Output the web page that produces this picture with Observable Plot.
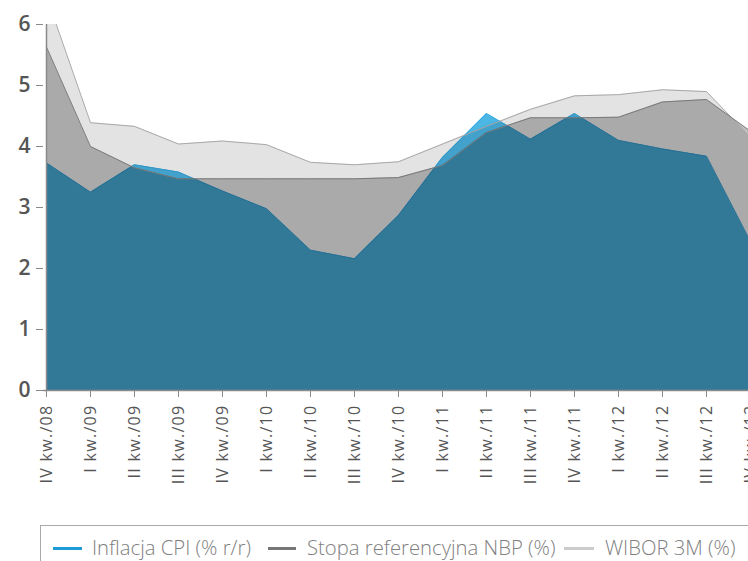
<!DOCTYPE html>
<html>
<head>
<meta charset="utf-8">
<script src="https://cdn.jsdelivr.net/npm/d3@7"></script>
<script src="https://cdn.jsdelivr.net/npm/@observablehq/plot@0.6"></script>
<style>
  html, body { margin: 0; padding: 0; background: #fff; overflow: hidden; }
  body { width: 748px; height: 561px; position: relative; font-family: "Open Sans", "Noto Sans", sans-serif; }
  #chart { position: absolute; left: 0; top: 0; }
  g[aria-label="y-axis tick label"] { fill: #555; font-weight: 600; }
  g[aria-label="x-axis tick label"] { fill: #555; letter-spacing: 1.3px; }
  g[aria-label="y-axis tick"], g[aria-label="x-axis tick"] { stroke: #8a8a8a; }
  #legend { position: absolute; left: 40px; top: 525px; width: 760px; height: 60px; border: 1px solid #aaa; box-sizing: border-box; }
  .sw { position: absolute; height: 3px; top: 21px; }
  .lt { position: absolute; top: 7px; font-size: 20.3px; line-height: 28px; color: #808080; font-weight: 300; white-space: nowrap; }
</style>
</head>
<body>
<div id="chart"></div>
<div id="legend"></div>
<script>
const categories = ["IV kw./08","I kw./09","II kw./09","III kw./09","IV kw./09","I kw./10","II kw./10","III kw./10","IV kw./10","I kw./11","II kw./11","III kw./11","IV kw./11","I kw./12","II kw./12","III kw./12","IV kw./12"];
const cpi   = [3.73, 3.25, 3.70, 3.58, 3.27, 2.98, 2.30, 2.16, 2.87, 3.82, 4.54, 4.12, 4.54, 4.10, 3.96, 3.84, 2.44];
const nbp   = [5.63, 4.00, 3.65, 3.47, 3.47, 3.47, 3.47, 3.47, 3.49, 3.69, 4.23, 4.47, 4.47, 4.48, 4.73, 4.77, 4.25];
const wibor = [6.46, 4.39, 4.33, 4.04, 4.09, 4.03, 3.74, 3.70, 3.75, 4.04, 4.33, 4.61, 4.83, 4.85, 4.93, 4.90, 4.15];
const yTicks = [0, 1, 2, 3, 4, 5, 6];
const seriesNames = ["Inflacja CPI (% r/r)", "Stopa referencyjna NBP (%)", "WIBOR 3M (%)"];
const seriesColors = ["#1e9ad8", "#777777", "#cccccc"];

const data = categories.map((c, i) => ({cat: c, cpi: cpi[i], nbp: nbp[i], wibor: wibor[i]}));

const plot = Plot.plot({
  width: 748,
  height: 520,
  marginTop: 24,
  marginBottom: 130,
  marginLeft: 43,
  marginRight: 0,
  style: {fontFamily: "'Open Sans', 'Noto Sans', sans-serif", background: "#fff"},
  x: {type: "point", domain: categories, range: [43, 752], padding: 0},
  y: {domain: [0, 6]},
  marks: [
    Plot.areaY(data, {x: "cat", y: "cpi", fill: "#4cb7e5", clip: true}),
    Plot.lineY(data, {x: "cat", y: "cpi", stroke: "#3aa8e0", strokeWidth: 1, clip: true}),
    Plot.areaY(data, {x: "cat", y: "wibor", fill: "#000", fillOpacity: 0.11, clip: true}),
    Plot.areaY(data, {x: "cat", y: "nbp", fill: "#000", fillOpacity: 0.251, clip: true}),
    Plot.lineY(data, {x: "cat", y: "wibor", stroke: "#a8a8a8", strokeWidth: 1, clip: true}),
    Plot.lineY(data, {x: "cat", y: "nbp", stroke: "#7a7a7a", strokeWidth: 1, clip: true}),
    Plot.ruleY([0], {stroke: "#8a8a8a", strokeWidth: 1.5}),
    Plot.ruleX([categories[0]], {y1: 0, y2: 6, stroke: "#8a8a8a", strokeWidth: 1.5}),
    Plot.axisY(yTicks, {tickSize: 7, tickPadding: 6, fontSize: 21, tickFormat: d => String(d), label: null}),
    Plot.axisX(categories, {tickSize: 7, tickPadding: 7, tickRotate: -90, fontSize: 16, label: null})
  ]
});
document.getElementById("chart").appendChild(plot);

const legend = document.getElementById("legend");
const swX = [12, 227, 523];
const swW = [29, 28, 30];
const txX = [51, 266, 564];
seriesNames.forEach((name, i) => {
  const sw = document.createElement("div");
  sw.className = "sw";
  sw.style.left = swX[i] + "px";
  sw.style.width = swW[i] + "px";
  sw.style.background = seriesColors[i];
  legend.appendChild(sw);
  const t = document.createElement("div");
  t.className = "lt";
  t.style.left = txX[i] + "px";
  t.textContent = name;
  legend.appendChild(t);
});
</script>
</body>
</html>
